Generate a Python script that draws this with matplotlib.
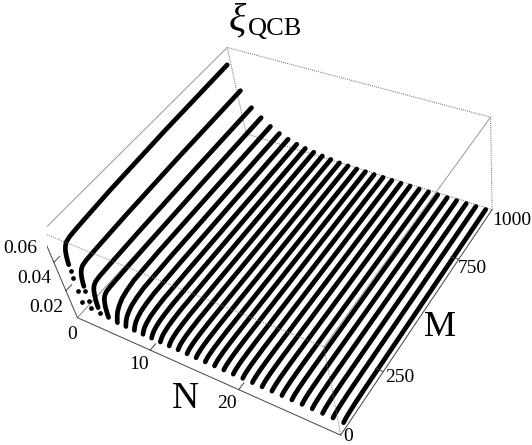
"""xi_QCB against N and M, drawn as rows of dots in a perspective box."""

import matplotlib
matplotlib.use("Agg")
import matplotlib.pyplot as plt

W, H = 532, 445

# curves, left to right
N_values = [1.00, 2.04, 3.07, 4.11, 5.14, 6.18, 7.21, 8.25, 9.29, 10.32,
            11.36, 12.39, 13.43, 14.46, 15.50, 16.54, 17.57, 18.61, 19.64, 20.68,
            21.71, 22.75, 23.79, 24.82, 25.86, 26.89, 27.93, 28.96, 30.00]
# height of each curve at the far end (M = 980)
xi_end = [0.0507, 0.0348, 0.0246, 0.0192, 0.0147, 0.0114, 0.0090, 0.0072, 0.0060, 0.0051,
          0.0042, 0.0036, 0.0030, 0.0027, 0.0024, 0.0024, 0.0023, 0.0022, 0.0021, 0.0020,
          0.0020, 0.0019, 0.0019, 0.0019, 0.0019, 0.0019, 0.0019, 0.0019, 0.0019]
M_values = [40, 41, 43, 45, 47, 49, 52, 56, 62, 70, 90, 120, 160, 300, 600, 980]
# rise along M as a fraction of the far-end height
rise_low_N = [0.10, 0.26, 0.45, 0.54, 0.62, 0.68, 0.74, 0.79, 0.83, 0.86, 0.88, 0.89, 0.90, 0.93, 0.97, 1.00]
rise_high_N = [0.05, 0.10, 0.15, 0.20, 0.26, 0.30, 0.36, 0.43, 0.50, 0.58, 0.72, 0.82, 0.90, 0.95, 0.98, 1.00]
# how many leading points of a curve stay separate dots, first curves only
loose_dots = [4, 3, 1]

N_ticks = [10, 20]
M_ticks = [250, 750]
xi_ticks = [0.02, 0.04]

N_lo, N_hi = 1.0, 30.4
M_lo, M_hi = 0, 1000
xi_lo, xi_hi = 0, 0.06

fig = plt.figure(figsize=(W / 100, H / 100), dpi=100)
ax = fig.add_axes([46.83 / W, 1 - 451.37 / H, 449.8 / W, 449.8 / H], projection="3d")
ax.set_proj_type("persp", focal_length=0.4481)
ax.view_init(elev=43.682, azim=-48.934, roll=11.831)
ax.set_box_aspect((1.0, 0.9973, 0.3970))
ax.set_xlim(N_lo, N_hi)
ax.set_ylim(M_lo, M_hi)
ax.set_zlim(xi_lo, xi_hi)
ax.set_axis_off()
ax.computed_zorder = False


def edge(a, b, **kw):
    ax.plot([a[0], b[0]], [a[1], b[1]], [a[2], b[2]], **kw)


A = (N_lo, M_lo, xi_lo)
B = (N_hi, M_lo, xi_lo)
C = (N_hi, M_hi, xi_lo)
D = (N_lo, M_hi, xi_lo)
E = (N_lo, M_lo, xi_hi)
F = (N_hi, M_lo, xi_hi)
G = (N_hi, M_hi, xi_hi)
K = (N_lo, M_hi, xi_hi)

back_solid = dict(color="#777777", lw=0.6, zorder=1)
back_dot = dict(color="#666666", lw=0.7, ls=(0, (1, 1.2)), zorder=1)
front_solid = dict(color="#444444", lw=0.7, zorder=5)
top_solid = dict(color="#888888", lw=0.6, zorder=5)
top_dot = dict(color="#777777", lw=0.7, ls=(0, (1, 1.2)), zorder=5)

edge(A, D, **back_solid)
edge(D, C, **back_dot)
edge(D, K, **back_dot)
edge(C, G, **back_dot)
edge(K, G, **back_dot)
edge(E, K, **top_solid)
edge(G, F, **top_solid)
edge(E, F, **top_dot)
edge(F, B, **top_dot)
edge(A, B, **front_solid)
edge(B, C, **front_solid)
edge(A, E, **front_solid)

# ticks run a little way into the box
for n in N_ticks:
    edge((n, M_lo, xi_lo), (n, M_lo + 28, xi_lo), **front_solid)
for m in M_ticks:
    edge((N_hi, m, xi_lo), (N_hi - 0.8, m, xi_lo), **front_solid)
for z in xi_ticks:
    edge((N_lo, M_lo, z), (N_lo, M_lo + 28, z), **front_solid)

for i, (n, end) in enumerate(zip(N_values, xi_end)):
    rise = rise_low_N if i < 4 else rise_high_N
    xi = [end * r for r in rise]
    ns = [n] * len(M_values)
    k = loose_dots[i] if i < len(loose_dots) else 0
    if k:
        ax.plot(ns[:k], M_values[:k], xi[:k], ls="none", marker="o", ms=3.4, mew=0, color="black", zorder=3)
    ax.plot(ns[k:], M_values[k:], xi[k:], color="black", lw=3.4,
            solid_capstyle="round", solid_joinstyle="round", zorder=3)


def label(x, y, s, size, **kw):
    # x, y in picture pixels, y at the text baseline
    fig.text(x / W, 1 - y / H, s, fontsize=size, family="Liberation Serif", color="black", **kw)


label(3, 252.5, "0.06", 14)
label(17, 283, "0.04", 14)
label(29, 312, "0.02", 14)
label(67, 339, "0", 14)
label(129, 369, "10", 14)
label(217, 408, "20", 14)
label(343, 441, "0", 14)
label(385, 382, "250", 14)
label(458, 273, "750", 14)
label(492, 225, "1000", 14)
label(172, 408, "N", 27)
label(424, 336, "M", 26)
label(229, 30, "ξ", 29, style="italic")
label(248, 35, "QCB", 19)

fig.savefig("out.png", dpi=100)
